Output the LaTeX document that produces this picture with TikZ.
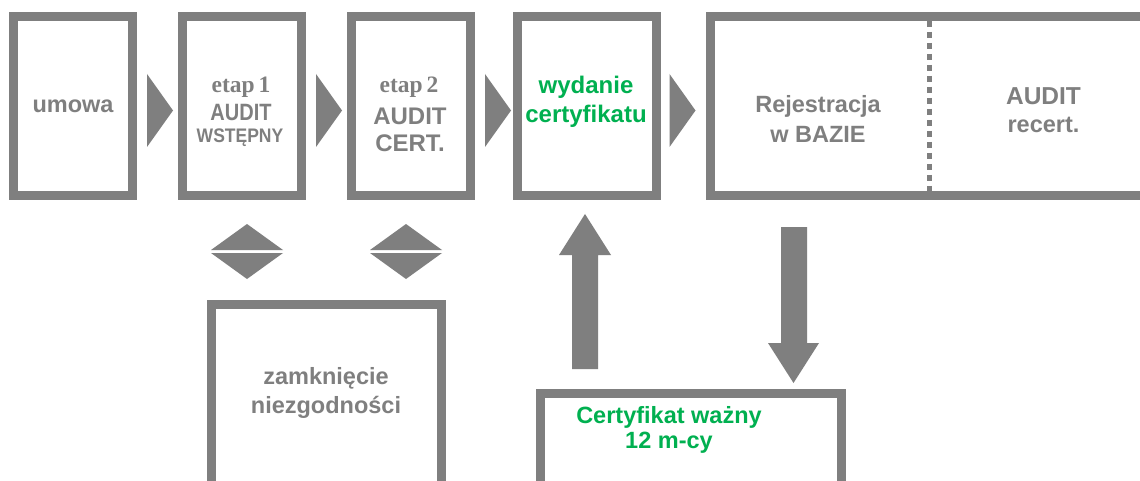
\documentclass[tikz,border=0pt]{standalone}
\usepackage{fontspec}
\usepackage{graphicx}
\setmainfont{Liberation Sans}
\newfontfamily\serifbf{Liberation Serif}
\definecolor{gr}{HTML}{7F7F7F}
\definecolor{grn}{HTML}{00B050}
\begin{document}
\begin{tikzpicture}[x=1pt,y=-1pt,
  box/.style={draw=gr, line width=9pt, inner sep=0pt, fill=white},
  txt/.style={text=gr, font=\bfseries\fontsize{23.5}{28}\selectfont, anchor=base, inner sep=0pt},
  gtxt/.style={txt, text=grn},
  etap/.style={txt, font=\serifbf\bfseries\fontsize{23.5}{26}\selectfont},
  shapefill/.style={fill=gr}]
\useasboundingbox (0,0) rectangle (1140,481);
\fill[white] (0,0) rectangle (1140,481);

% top row boxes
\node[box, minimum width=119pt, minimum height=179pt] (umowa) at (73,106) {};
\node[box, minimum width=119pt, minimum height=179pt] (etap1) at (242,106) {};
\node[box, minimum width=119pt, minimum height=179pt] (etap2) at (411,106) {};
\node[box, minimum width=139pt, minimum height=179pt] (wyd) at (587,106) {};
\node[box, minimum width=449.5pt, minimum height=179pt] (rej) at (935.25,106) {};
\draw[gr, line width=5pt, dash pattern=on 6pt off 5pt] (929,21) -- (929,191);

% bottom boxes
\node[box, minimum width=230pt, minimum height=195.5pt] (zamk) at (326.5,402.25) {};
\node[box, minimum width=301pt, minimum height=106.5pt] (cert) at (691,446.75) {};

% texts
\node[txt] (t1) at (73,113) {umowa};
\node[etap] (t2a) at (241,93) {etap\,1};
\node[txt, font=\bfseries\fontsize{20}{24}\selectfont] (t2b) at (241,121) {\scalebox{1}[1.18]{AUDIT}};
\node[txt, font=\bfseries\fontsize{17.5}{21}\selectfont] (t2c) at (240,143) {\scalebox{1}[1.12]{WSTĘPNY}};
\node[etap] (t3a) at (409,93) {etap\,2};
\node[txt, font=\bfseries\fontsize{24}{28}\selectfont] (t3b) at (410,125) {AUDIT};
\node[txt, font=\bfseries\fontsize{24}{28}\selectfont] (t3c) at (410,152) {CERT.};
\node[gtxt, font=\bfseries\fontsize{24}{28}\selectfont] (t4a) at (586,94) {wydanie};
\node[gtxt, font=\bfseries\fontsize{24}{28}\selectfont] (t4b) at (586,123) {certyfikatu};
\node[txt] (t5a) at (818,113) {Rejestracja};
\node[txt] (t5b) at (818,143) {w BAZIE};
\node[txt, font=\bfseries\fontsize{24.5}{28}\selectfont] (t6a) at (1043.5,105) {AUDIT};
\node[txt] (t6b) at (1043.5,133) {recert.};
\node[txt] (t7a) at (326,384) {zamknięcie};
\node[txt] (t7b) at (326,413) {niezgodności};
\node[gtxt] (t8a) at (669,423) {Certyfikat ważny};
\node[gtxt] (t8b) at (669,448) {12 m-cy};

% chevrons between top boxes
\foreach \cx in {160,329,498,682.5}
  \fill[shapefill] (\cx-13,74) -- (\cx+13,110.5) -- (\cx-13,147) -- cycle;

% double triangles
\foreach \cx in {247,406} {
  \fill[shapefill] (\cx-36,250) -- (\cx,224) -- (\cx+36,250) -- cycle;
  \fill[shapefill] (\cx-36,253) -- (\cx+36,253) -- (\cx,279) -- cycle;
}

% block arrows
\fill[shapefill] (572,369) -- (572,255) -- (559,255) -- (585,214) -- (611,255) -- (598,255) -- (598,369) -- cycle;
\fill[shapefill] (781,227) -- (807,227) -- (807,343) -- (819,343) -- (793.5,383) -- (768,343) -- (781,343) -- cycle;
\end{tikzpicture}
\end{document}
